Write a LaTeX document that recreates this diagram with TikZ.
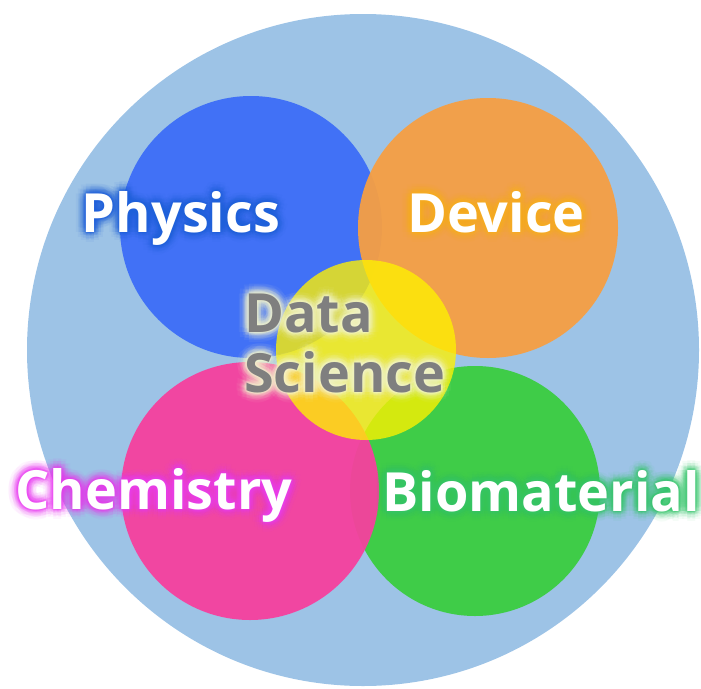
\documentclass[tikz,border=0pt]{standalone}
\usepackage{fontspec}
\newfontfamily\lblfont{Open Sans}
\usetikzlibrary{calc}
\definecolor{bigblue}{HTML}{9DC3E6}
\definecolor{physblue}{HTML}{4171F6}
\definecolor{devorange}{HTML}{F69F43}
\definecolor{chempink}{HTML}{F6409E}
\definecolor{biogreen}{HTML}{3FCC48}
\definecolor{dsyellow}{HTML}{FFF200}
\definecolor{dsgrey}{HTML}{7F7F7F}
\definecolor{gphys}{HTML}{1E60DA}
\definecolor{gdev}{HTML}{FBB020}
\definecolor{gchem}{HTML}{E83CF0}
\definecolor{gbio}{HTML}{35C46A}
\definecolor{gds}{HTML}{F6F8D0}
\tikzset{
  field/.style={circle, inner sep=0pt, draw=none},
  lbl/.style={inner sep=0pt, font=\lblfont\bfseries\fontsize{54}{60}\selectfont},
}
\newcommand{\glowlabel}[6]{% name, position, glow colour, text colour, anchor, text
  \foreach \r/\op in {10/0.05,7/0.08,4.5/0.12,2/0.16}{
    \foreach \a in {0,30,...,330}{
      \node[lbl, text=#3, opacity=\op, anchor=#5] (#1-g-\r-\a) at ($(#2)+(\a:\r)$) {#6};
    }
  }
  \node[lbl, text=#4, anchor=#5] (#1) at (#2) {#6};
}
\begin{document}
\begin{tikzpicture}[x=1pt,y=-1pt]
\useasboundingbox (0,0) rectangle (701,688);
\node[field, fill=bigblue, minimum size=672pt] (world) at (363,350) {};
\node[field, fill=physblue, minimum size=262pt] (phys) at (251,227) {};
\node[field, fill=devorange, fill opacity=0.95, minimum size=260pt] (dev) at (488,228) {};
\node[field, fill=biogreen, minimum size=250pt] (bio) at (475,491) {};
\node[field, fill=chempink, fill opacity=0.95, minimum size=258pt] (chem) at (250,491) {};
\node[field, fill=dsyellow, fill opacity=0.78, minimum size=180pt] (ds) at (366,350) {};
\coordinate (pPhys) at (181,232);
\coordinate (pDev) at (496,232);
\coordinate (pData) at (244,332);
\coordinate (pSci) at (244,392);
\coordinate (pChem) at (154,509);
\coordinate (pBio) at (541,511);
\glowlabel{tPhys}{pPhys}{gphys}{white}{base}{Physics}
\glowlabel{tDev}{pDev}{gdev}{white}{base}{Device}
\glowlabel{tData}{pData}{gds}{dsgrey}{base west}{Data}
\glowlabel{tSci}{pSci}{gds}{dsgrey}{base west}{Science}
\glowlabel{tChem}{pChem}{gchem}{white}{base}{Chemistry}
\glowlabel{tBio}{pBio}{gbio}{white}{base}{Biomaterial}
\end{tikzpicture}
\end{document}
